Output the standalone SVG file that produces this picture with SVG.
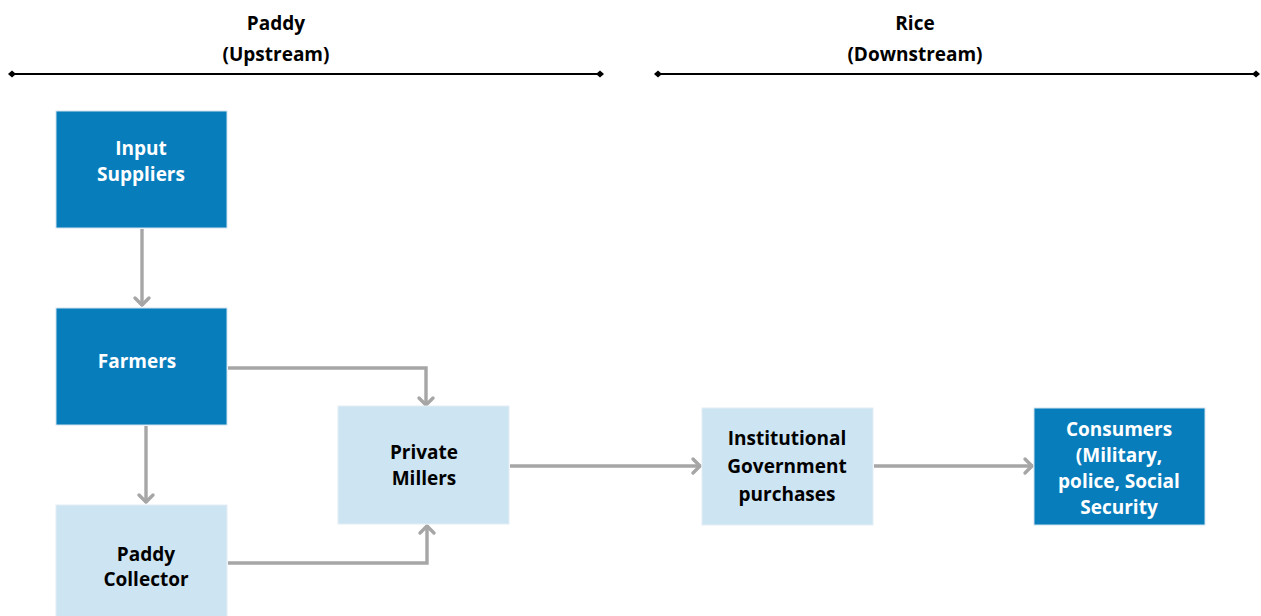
<svg xmlns="http://www.w3.org/2000/svg" width="1261" height="616" viewBox="0 0 1261 616">
<defs>
<marker id="dia" viewBox="-5 -5 10 10" markerWidth="10" markerHeight="10" refX="0" refY="0" markerUnits="userSpaceOnUse" orient="auto">
<path d="M-4 0 L0 -3.5 L4 0 L0 3.5 Z" fill="#000"/>
</marker>
<marker id="arr" viewBox="0 0 20 20" markerWidth="20" markerHeight="20" refX="17" refY="10" markerUnits="userSpaceOnUse" orient="auto">
<path d="M9 3 L16 10 L9 17" fill="none" stroke="#A6A6A6" stroke-width="3.4" stroke-linecap="round" stroke-linejoin="round"/>
</marker>
</defs>
<style>
text{font-family:"Open Sans","Noto Sans","Liberation Sans",sans-serif;font-weight:bold;font-size:19px;text-anchor:middle}
.hd{fill:#000;font-size:19px}
.dark rect{fill:#087DBC;stroke:#d0e2ee;stroke-width:1}
.dark text{fill:#fff}
.light rect{fill:#CDE4F2;stroke:#e4eef5;stroke-width:1}
.light text{fill:#000}
.c{fill:none;stroke:#A6A6A6;stroke-width:3.4;marker-end:url(#arr)}
.hl{stroke:#000;stroke-width:2;marker-start:url(#dia);marker-end:url(#dia)}
</style>
<g id="headers">
<text class="hd" x="276" y="30">Paddy</text>
<text class="hd" x="276" y="61">(Upstream)</text>
<line class="hl" x1="12" y1="74" x2="600" y2="74"/>
<text class="hd" x="915" y="30">Rice</text>
<text class="hd" x="915" y="61">(Downstream)</text>
<line class="hl" x1="658" y1="74" x2="1256" y2="74"/>
</g>
<g id="connectors">
<path class="c" d="M142 229 V306"/>
<path class="c" d="M146 426 V503"/>
<path class="c" d="M228 368 H426 V406"/>
<path class="c" d="M228 563 H427 V525"/>
<path class="c" d="M510 466 H701"/>
<path class="c" d="M874 466 H1033"/>
</g>
<g id="input-suppliers" class="dark">
<rect x="56" y="111" width="171" height="117"/>
<text x="141" y="155">Input</text>
<text x="141" y="181">Suppliers</text>
</g>
<g id="farmers" class="dark">
<rect x="56" y="308" width="171" height="117"/>
<text x="137" y="368">Farmers</text>
</g>
<g id="paddy-collector" class="light">
<rect x="56" y="505" width="171" height="120"/>
<text x="146" y="561">Paddy</text>
<text x="146" y="586">Collector</text>
</g>
<g id="private-millers" class="light">
<rect x="338" y="406" width="171" height="118"/>
<text x="424" y="459">Private</text>
<text x="424" y="485">Millers</text>
</g>
<g id="institutional" class="light">
<rect x="702" y="408" width="171" height="117"/>
<text x="787" y="445">Institutional</text>
<text x="787" y="473">Government</text>
<text x="787" y="501">purchases</text>
</g>
<g id="consumers" class="dark">
<rect x="1034" y="408" width="171" height="117"/>
<text x="1119" y="436">Consumers</text>
<text x="1119" y="462">(Military,</text>
<text x="1119" y="488">police, Social</text>
<text x="1119" y="514">Security</text>
</g>
</svg>
